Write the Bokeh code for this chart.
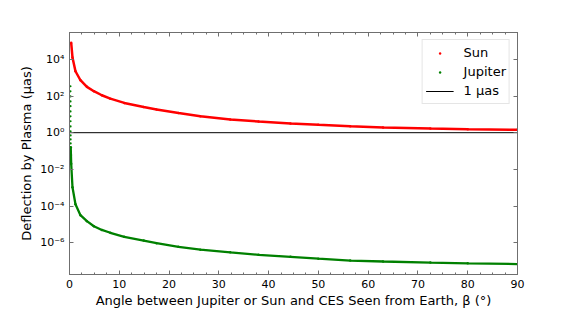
from bokeh.plotting import figure
from bokeh.models import (LinearAxis, LogAxis, SingleIntervalTicker, FixedTicker,
                          CustomJSTickFormatter, Legend, LegendItem, Range1d, ColumnDataSource)
from bokeh.embed import file_html
from bokeh.resources import INLINE

# ---- data ----
sun_beta = [0.34, 0.6, 1.2, 2.2, 3.5, 4.9, 6.5, 8.2, 11, 14.9, 17.5, 21.9, 26.3, 32.3,
            38, 44.4, 50, 56.4, 63, 72.5, 80, 90]
sun_defl = [79000, 12600, 2240, 724, 316, 182, 110, 72, 42, 25, 18.6, 11.7, 7.9, 5.2,
            4.1, 3.2, 2.7, 2.24, 1.95, 1.70, 1.55, 1.45]
jup_beta = [0.25, 0.29, 0.34, 0.6, 1.2, 2.2, 3.5, 4.9, 6.5, 8.2, 11, 14.9, 17.5, 21.9,
            26.3, 32.3, 38, 44.4, 50, 56.4, 63, 72.5, 80, 90]
jup_defl = [0.16, 0.06, 2.0e-2, 1.07e-3, 1.26e-4, 3.2e-5, 1.5e-5, 7.9e-6, 5.0e-6, 3.5e-6,
            2.1e-6, 1.32e-6, 9.5e-7, 6.0e-7, 4.2e-7, 3.0e-7, 2.2e-7, 1.7e-7, 1.35e-7,
            1.07e-7, 9.5e-8, 8.3e-8, 7.6e-8, 6.9e-8]
# Jupiter points very close to the limb (drawn as separate dots)
jup_limb_beta = [0.19, 0.19, 0.19, 0.2, 0.2, 0.2, 0.2, 0.21, 0.21, 0.21, 0.22, 0.22, 0.23, 0.24]
jup_limb_defl = [340, 180, 95, 51, 28, 14.5, 7.8, 4.2, 2.2, 1.17, 0.71, 0.43, 0.26, 0.16]
ref_beta = [0, 90]
ref_defl = [1, 1]

y_ticks = [1e-6, 1e-4, 1e-2, 1, 1e2, 1e4]
y_exps = [-6, -4, -2, 0, 2, 4]
y_tick_labels = ["10\u207b\u2076", "10\u207b\u2074", "10\u207b\u00b2", "10\u2070", "10\u00b2", "10\u2074"]

SPINE = "#6f6f6f"
FONT = "DejaVu Sans"

p = figure(width=573, height=315, y_axis_type="log",
           x_range=Range1d(0, 90), y_range=Range1d(1.86e-8, 2.9e5),
           output_backend="svg", toolbar_location=None,
           min_border_left=69, min_border_right=56, min_border_top=32, min_border_bottom=41)
p.xgrid.visible = False
p.ygrid.visible = False
p.outline_line_color = SPINE
p.background_fill_color = "white"
p.border_fill_color = "white"

sun_src = ColumnDataSource(dict(beta=sun_beta, defl=sun_defl))
jup_src = ColumnDataSource(dict(beta=jup_beta, defl=jup_defl))

p.line("beta", "defl", source=sun_src, line_color="#ff0000", line_width=2.5)
sun_dots = p.scatter("beta", "defl", source=sun_src, size=2.5, marker="circle",
                     fill_color="#ff0000", line_color=None)
p.line("beta", "defl", source=jup_src, line_color="#008000", line_width=2.3)
jup_dots = p.scatter("beta", "defl", source=jup_src, size=2.5, marker="circle",
                     fill_color="#008000", line_color=None)
p.scatter(jup_limb_beta, jup_limb_defl, size=2.2, marker="circle",
          fill_color="#008000", line_color=None)
ref_line = p.line(ref_beta, ref_defl, line_color="black", line_width=1)

label_fmt = CustomJSTickFormatter(args=dict(exps=y_exps, labels=y_tick_labels), code="""
const e = Math.round(Math.log10(tick));
const i = exps.indexOf(e);
return i >= 0 ? labels[i] : '';
""")
blank_fmt = CustomJSTickFormatter(code="return '';")

def style(ax):
    ax.axis_line_color = SPINE
    ax.major_tick_line_color = SPINE
    ax.minor_tick_line_color = SPINE
    ax.major_tick_in = 4
    ax.major_tick_out = 0
    ax.minor_tick_in = 2
    ax.minor_tick_out = 0
    ax.major_label_text_font = FONT
    ax.major_label_text_font_size = "11px"
    ax.major_label_text_color = "black"
    ax.axis_label_text_font = FONT
    ax.axis_label_text_font_size = "13px"
    ax.axis_label_text_font_style = "normal"
    ax.axis_label_text_color = "black"

xa = p.xaxis[0]
xa.ticker = SingleIntervalTicker(interval=10, num_minor_ticks=4)
style(xa)
xa.major_label_standoff = 5
xa.axis_label = "Angle between Jupiter or Sun and CES Seen from Earth, \u03b2 (\u00b0)"
xa.axis_label_standoff = 2

ya = p.yaxis[0]
ya.ticker = FixedTicker(ticks=y_ticks, minor_ticks=[])
ya.formatter = label_fmt
style(ya)
ya.major_label_standoff = 5
ya.axis_label = "Deflection by Plasma (\u03bcas)"
ya.axis_label_standoff = 3

top = LinearAxis(ticker=SingleIntervalTicker(interval=10, num_minor_ticks=4), formatter=blank_fmt)
style(top)
p.add_layout(top, "above")
right = LogAxis(ticker=FixedTicker(ticks=y_ticks, minor_ticks=[]), formatter=blank_fmt)
style(right)
p.add_layout(right, "right")

legend = Legend(items=[LegendItem(label="Sun", renderers=[sun_dots]),
                       LegendItem(label="Jupiter", renderers=[jup_dots]),
                       LegendItem(label="1 \u03bcas", renderers=[ref_line])],
                location="top_right")
legend.border_line_color = "#cccccc"
legend.border_line_width = 1
legend.background_fill_color = "white"
legend.background_fill_alpha = 0.8
legend.label_text_font = FONT
legend.label_text_font_size = "13px"
legend.label_text_color = "black"
legend.glyph_width = 28
legend.glyph_height = 6
legend.label_height = 19
legend.label_standoff = 10
legend.padding = 3
legend.spacing = 0
legend.margin = 7
p.add_layout(legend)

open("out.html", "w").write(file_html(p, INLINE))
